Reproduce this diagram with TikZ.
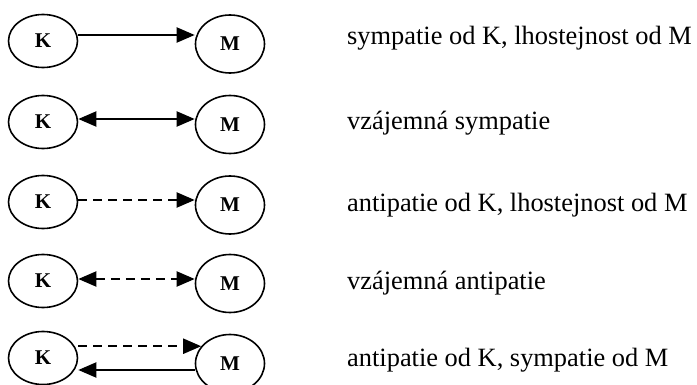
\documentclass[tikz,border=0pt]{standalone}
\usepackage{fontspec}
\setmainfont{Liberation Serif}
\usetikzlibrary{shapes.geometric,arrows.meta}
\begin{document}
\begin{tikzpicture}[x=1pt,y=-1pt,
  person/.style={ellipse,draw,line width=1.6pt,inner sep=0pt,minimum width=69pt,
    font=\fontsize{21}{24}\selectfont\bfseries},
  kbox/.style={person,minimum height=53pt},
  mbox/.style={person,minimum height=58pt},
  rel/.style={line width=2pt},
  dashrel/.style={rel,dash pattern=on 9pt off 6pt},
  tip/.style={-{Triangle[length=18pt,width=15pt]}},
  bothtips/.style={{Triangle[length=18pt,width=15pt]}-{Triangle[length=18pt,width=15pt]}},
  backtip/.style={{Triangle[length=18pt,width=15pt]}-},
  desc/.style={anchor=west,inner sep=0pt,text height=12pt,text depth=0pt,
    font=\fontsize{26.4}{30}\selectfont}]
\useasboundingbox (0,0) rectangle (697,385);

% people
\node[kbox] (K1) at (43,41) {K};
\node[mbox] (M1) at (230,44) {M};
\node[kbox] (K2) at (43,122) {K};
\node[mbox] (M2) at (230,124.5) {M};
\node[kbox] (K3) at (43,202) {K};
\node[mbox] (M3) at (230,205) {M};
\node[kbox] (K4) at (43,281) {K};
\node[mbox] (M4) at (230,283.5) {M};
\node[kbox] (K5) at (43,358) {K};
\node[mbox] (M5) at (230,363.5) {M};

% relations
\draw[rel,tip] ([yshift=6pt]K1.east) -- ([yshift=6pt]K1.east -| M1.west);
\draw[rel,bothtips] ([yshift=3pt]K2.east) -- ([yshift=3pt]K2.east -| M2.west);
\draw[dashrel,tip] ([yshift=2pt]K3.east) -- ([yshift=2pt]K3.east -| M3.west);
\draw[dashrel,bothtips] ([yshift=2pt]K4.east) -- ([yshift=2pt]K4.east -| M4.west);
\draw[dashrel,tip] (K5.east |- M5.149) -- (M5.149);
\draw[rel,backtip] ([yshift=-12pt]K5.east) -- ([yshift=-12pt]K5.east -| M5.west);

% descriptions
\node[desc] (d1) at (347,39) {sympatie od K, lhostejnost od M};
\node[desc] (d2) at (347,124) {vzájemná sympatie};
\node[desc] (d3) at (347,206) {antipatie od K, lhostejnost od M};
\node[desc] (d4) at (347,284) {vzájemná antipatie};
\node[desc] (d5) at (347,360) {antipatie od K, sympatie od M};
\end{tikzpicture}
\end{document}
